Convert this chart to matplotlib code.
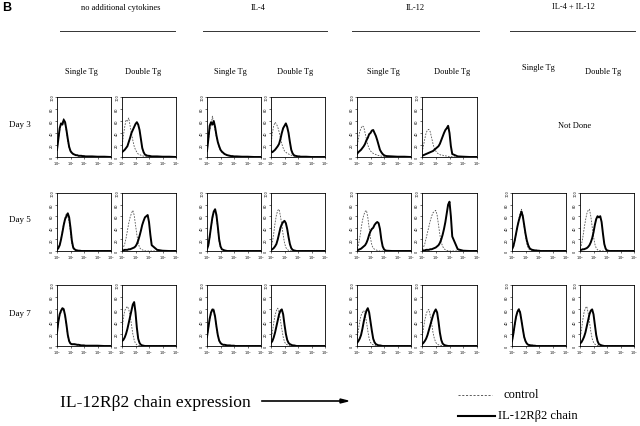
import matplotlib
matplotlib.use("Agg")
import matplotlib.pyplot as plt
import numpy as np

W, H = 640, 427

# ---- data ----
conditions = ["no additional cytokines", "IL-4", "IL-12", "IL-4 + IL-12"]
genotypes = ["Single Tg", "Double Tg"]
days = ["Day 3", "Day 5", "Day 7"]
log_x = [0.0, 0.1, 0.2, 0.3, 0.4, 0.5, 0.6, 0.7, 0.8, 0.9, 1.0, 1.1, 1.2, 1.3,
         1.4, 1.5, 1.6, 1.7, 1.8, 1.9, 2.0, 2.1, 2.2, 2.6, 3.0, 3.5, 4.0]
y_ticks = [0, 20, 40, 60, 80, 100]
x_tick_labels = [r"$10^0$", r"$10^1$", r"$10^2$", r"$10^3$", r"$10^4$"]

# Day 3 (IL-4 + IL-12 not done)
d3_solid = [
    [12,30,48,56,54,62,58,45,30,17,10,7,5,4,3,3,2,2,2,1.5,1.5,1,1,1,0.5,0.5,0],
    [8,10,12,15,18,25,32,40,45,50,55,58,54,45,30,15,8,4,3,2,2,1.5,1,1,0.5,0.5,0],
    [10,30,52,58,54,60,50,36,25,18,12,9,7,5,4,3,2.5,2,1.5,1.5,1,1,1,0.5,0.5,0,0],
    [10,8,10,12,15,18,22,30,40,48,52,56,50,40,25,12,6,3,2,1.5,1,1,0.5,0.5,0,0,0],
    [5,8,10,12,15,18,22,28,32,38,40,44,45,40,35,28,20,12,8,5,3,2,1.5,1,0.5,0.5,0],
    [2,3,4,5,6,7,8,9,10,12,14,16,18,22,28,34,40,45,48,52,40,18,5,1,0.5,0,0],
]
d3_dashed = [
    [10,28,44,54,58,64,54,42,26,15,9,6,5,4,3,2.5,2,2,1.5,1.5,1,1,1,0.5,0.5,0,0],
    [15,35,50,62,60,65,52,40,28,18,12,8,5,4,3,2,1.5,1,1,1,1,0.5,0.5,0.5,0,0,0],
    [8,28,45,52,68,55,45,33,24,16,11,8,6,5,4,3,2,2,1.5,1,1,1,0.5,0.5,0,0,0],
    [20,40,52,58,55,50,42,32,22,15,10,8,6,5,4,3,2,1.5,1,1,1,0.5,0.5,0,0,0,0],
    [15,30,42,48,52,50,40,30,20,14,10,8,6,5,4,3,2.5,2,1.5,1,1,1,0.5,0.5,0,0,0],
    [8,18,30,40,45,46,42,32,22,14,10,7,5,4,3,3,2,2,1.5,1,1,0.5,0.5,0,0,0,0],
]
# Day 5
d5_solid = [
    [2,5,10,20,32,45,55,60,65,58,40,18,6,3,1.5,1,0.5,0.5,0,0,0,0,0,0,0,0,0],
    [1,1,2,2,2,3,3,4,5,6,8,12,18,26,35,45,52,58,60,62,50,28,10,2,0.5,0,0],
    [3,10,25,42,58,68,72,62,42,20,8,3,2,1,0.5,0,0,0,0,0,0,0,0,0,0,0,0],
    [2,3,5,8,12,20,30,40,46,50,52,48,38,24,12,5,2,1,0.5,0,0,0,0,0,0,0,0],
    [1,2,3,4,6,8,10,14,20,28,34,38,40,45,48,50,48,38,20,8,3,1,0.5,0,0,0,0],
    [1,1,1,2,2,2,3,3,4,5,6,8,10,14,20,28,38,50,65,80,85,60,25,3,0.5,0,0],
    [3,8,18,30,42,52,60,68,60,45,30,18,10,5,3,2,1.5,1,1,0.5,0.5,0,0,0,0,0,0],
    [2,2,3,3,4,5,7,10,15,22,32,45,55,60,58,60,50,30,12,4,1,0.5,0,0,0,0,0],
]
d5_dashed = [
    [3,6,12,22,35,48,58,65,60,50,32,12,4,2,1,0.5,0,0,0,0,0,0,0,0,0,0,0],
    [3,6,12,22,35,48,58,65,70,62,45,28,14,6,3,2,1,0.5,0,0,0,0,0,0,0,0,0],
    [3,8,22,40,55,65,70,58,38,16,6,3,1,0.5,0,0,0,0,0,0,0,0,0,0,0,0,0],
    [5,15,30,48,62,70,72,60,45,28,14,6,3,1,0.5,0,0,0,0,0,0,0,0,0,0,0,0],
    [4,10,22,38,52,62,68,70,58,40,22,10,5,3,2,1,0.5,0,0,0,0,0,0,0,0,0,0],
    [3,6,12,22,32,42,52,60,66,68,70,62,45,28,15,8,4,2,1,0.5,0,0,0,0,0,0,0],
    [3,6,15,28,42,55,65,72,62,42,25,12,5,2,1.5,1,0.5,0,0,0,0,0,0,0,0,0,0],
    [4,10,22,38,52,64,70,72,60,42,25,12,5,2,1,0.5,0,0,0,0,0,0,0,0,0,0,0],
]
# Day 7
d7_solid = [
    [22,40,52,58,62,60,50,35,18,8,4,3,3,3,2.5,2,2,1.5,1,1,1,0.5,0.5,0.5,0.5,0,0],
    [8,10,14,20,28,38,48,58,68,72,55,30,12,5,2,1,0.5,0,0,0,0,0,0,0,0,0,0],
    [15,30,45,55,60,58,48,32,18,9,5,3,2,2,1.5,1,1,1,0.5,0.5,0.5,0,0,0,0,0,0],
    [5,8,14,22,32,42,52,58,60,52,35,20,10,5,3,2,1,1,0.5,0,0,0,0,0,0,0,0],
    [5,8,12,18,28,40,50,58,62,55,40,25,12,6,3,2,1,1,0.5,0,0,0,0,0,0,0,0],
    [3,5,8,12,18,26,34,42,50,56,60,55,40,22,10,4,2,1,0.5,0,0,0,0,0,0,0,0],
    [8,20,35,48,56,60,55,42,28,15,8,4,2,1.5,1,1,0.5,0.5,0,0,0,0,0,0,0,0,0],
    [4,6,10,15,22,32,42,52,58,60,52,35,18,8,3,2,1,0.5,0,0,0,0,0,0,0,0,0],
]
d7_dashed = [
    [20,38,50,55,60,62,48,32,16,7,3,2,2,2,2,1.5,1.5,1,1,1,0.5,0.5,0.5,0.5,0,0,0],
    [25,45,58,62,65,60,50,35,20,10,4,2,1,1,0.5,0,0,0,0,0,0,0,0,0,0,0,0],
    [12,28,42,52,58,62,50,30,16,8,4,3,2,1.5,1,1,1,0.5,0.5,0.5,0,0,0,0,0,0,0],
    [10,22,38,50,58,62,55,42,28,15,7,3,2,1,1,0.5,0,0,0,0,0,0,0,0,0,0,0],
    [12,25,40,50,55,58,52,40,25,12,6,3,2,1,1,0.5,0,0,0,0,0,0,0,0,0,0,0],
    [12,28,42,52,58,60,50,38,22,12,6,3,2,1,1,0.5,0,0,0,0,0,0,0,0,0,0,0],
    [6,18,32,46,55,62,58,44,28,14,7,3,2,1,1,0.5,0.5,0,0,0,0,0,0,0,0,0,0],
    [10,25,42,55,62,65,55,40,24,12,6,3,2,1,1,0.5,0,0,0,0,0,0,0,0,0,0,0],
]
solid_by_day = [d3_solid, d5_solid, d7_solid]
dashed_by_day = [d3_dashed, d5_dashed, d7_dashed]

# ---- layout (pixel boxes) ----
col_x = [(57, 111), (122, 176), (207, 261), (271, 325),
         (357, 411), (422, 477), (512, 566), (580, 634)]
row_y = [(98, 158), (194, 252), (286, 347)]

serif = ["Liberation Serif", "DejaVu Serif"]

fig = plt.figure(figsize=(W / 100, H / 100), dpi=100)
fig.patch.set_facecolor("white")

def fx(px):
    return px / W

def fy(py):
    return 1 - py / H

xs = 10 ** np.array(log_x)

for r in range(3):
    ncols = 6 if r == 0 else 8
    for c in range(ncols):
        x0, x1 = col_x[c]
        y0, y1 = row_y[r]
        ax = fig.add_axes([fx(x0), fy(y1), (x1 - x0) / W, (y1 - y0) / H])
        ax.plot(xs, dashed_by_day[r][c], color="#555555", lw=0.6,
                linestyle=(0, (2, 1.5)))
        ax.plot(xs, solid_by_day[r][c], color="black", lw=1.4)
        ax.set_xscale("log")
        ax.set_xlim(1, 1e4)
        ax.set_ylim(0, 100)
        ax.set_xticks([1, 10, 100, 1000, 10000])
        ax.set_xticklabels(x_tick_labels, fontsize=2.5)
        ax.minorticks_off()
        ax.set_yticks(y_ticks)
        ax.set_yticklabels([str(v) for v in y_ticks], fontsize=2.5,
                           rotation=90, va="center")
        ax.tick_params(length=1.2, width=0.4, pad=0.8)
        for s in ax.spines.values():
            s.set_linewidth(0.6)

# ---- texts ----
def ptext(x, y, s, **kw):
    fig.text(fx(x), fy(y), s, **kw)

ptext(2, 8, "B", fontsize=9, fontweight="bold",
      family=["Liberation Sans", "DejaVu Sans"], va="center", ha="left")

header_x = [121, 258, 415, 573]
header_y = [8, 8, 8, 7]
line_span = [(60, 175), (203, 327), (352, 479), (510, 635)]
for i, name in enumerate(conditions):
    ptext(header_x[i], header_y[i], name, fontsize=6, family=serif,
          ha="center", va="center")
    a, b = line_span[i]
    fig.add_artist(plt.Line2D([fx(a), fx(b)], [fy(32), fy(32)],
                              color="#333333", lw=0.7,
                              transform=fig.transFigure))

geno_x = [81, 143, 230, 295, 383, 452, 538, 603]
geno_y = [72, 72, 72, 72, 72, 72, 68, 72]
for i in range(8):
    ptext(geno_x[i], geno_y[i], genotypes[i % 2], fontsize=6,
          family=serif, ha="center", va="center")

for r, d in enumerate(days):
    yc = (row_y[r][0] + row_y[r][1]) / 2
    ptext(9, yc - 3, d, fontsize=6.5, family=serif, ha="left", va="center")

ptext(575, 126, "Not Done", fontsize=6, family=serif, ha="center",
      va="center")

ptext(60, 403, "IL-12R\u03b22 chain expression", fontsize=12.6, family=serif,
      ha="left", va="center")
fig.add_artist(plt.Line2D([fx(262), fx(343)], [fy(402), fy(402)],
                          color="black", lw=1.2, transform=fig.transFigure))
fig.patches.append(matplotlib.patches.Polygon(
    [[fx(340), fy(400)], [fx(348), fy(402)], [fx(340), fy(404)]],
    closed=True, color="black", transform=fig.transFigure))

fig.add_artist(plt.Line2D([fx(458), fx(492)], [fy(396), fy(396)],
                          color="#444444", lw=0.6, linestyle=(0, (2.5, 2)),
                          transform=fig.transFigure))
ptext(503, 395, "control", fontsize=9, family=serif, ha="left", va="center")
fig.add_artist(plt.Line2D([fx(458), fx(495)], [fy(417), fy(417)],
                          color="black", lw=1.5, transform=fig.transFigure))
ptext(498, 416, "IL-12R\u03b22 chain", fontsize=9, family=serif, ha="left",
      va="center")

fig.savefig("out.png", dpi=100, facecolor="white")
